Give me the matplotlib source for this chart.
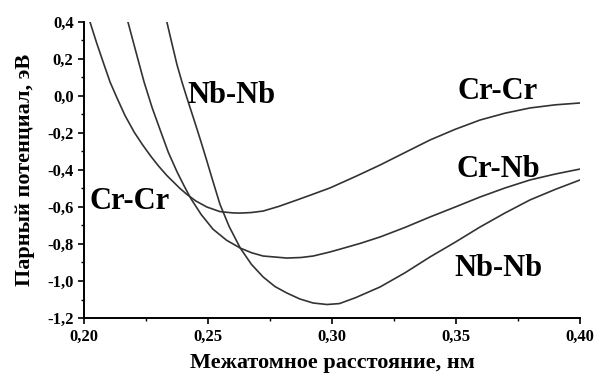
#!/usr/bin/env python3
"""Парные потенциалы Cr-Cr, Cr-Nb, Nb-Nb в зависимости от межатомного расстояния."""

import matplotlib

matplotlib.use("Agg")
import matplotlib.pyplot as plt
from matplotlib.ticker import MultipleLocator, FuncFormatter

matplotlib.rcParams["font.family"] = ["Liberation Serif", "DejaVu Serif"]
matplotlib.rcParams["font.weight"] = "bold"
matplotlib.rcParams["axes.unicode_minus"] = False

# Кривые (нм, эВ)
cr_cr_x = [0.2024, 0.2050, 0.2081, 0.2105, 0.2133, 0.2165, 0.2202, 0.2235, 0.2270,
           0.2300, 0.2334, 0.2387, 0.2415, 0.2450, 0.2495, 0.2548, 0.2600, 0.2630,
           0.2675, 0.2722, 0.2785, 0.2859, 0.2925, 0.2992, 0.3095, 0.3194, 0.3295,
           0.3395, 0.3497, 0.3597, 0.3698, 0.3798, 0.3900, 0.4000]
cr_cr_y = [0.40, 0.29, 0.168, 0.075, -0.011, -0.105, -0.195, -0.262, -0.327,
           -0.378, -0.43, -0.50, -0.532, -0.567, -0.60, -0.625, -0.632, -0.633,
           -0.63, -0.622, -0.597, -0.562, -0.53, -0.497, -0.435, -0.373, -0.305,
           -0.238, -0.18, -0.13, -0.093, -0.065, -0.048, -0.038]

cr_nb_x = [0.2177, 0.2210, 0.2242, 0.2275, 0.2310, 0.2340, 0.2375, 0.2405, 0.2431,
           0.2472, 0.2520, 0.2575, 0.2630, 0.2675, 0.2722, 0.2818, 0.2875, 0.2924,
           0.2992, 0.3032, 0.3113, 0.3194, 0.3295, 0.3395, 0.3497, 0.3597, 0.3698,
           0.3798, 0.3900, 0.4000]
cr_nb_y = [0.40, 0.235, 0.076, -0.065, -0.195, -0.305, -0.41, -0.49, -0.555,
           -0.64, -0.72, -0.78, -0.822, -0.847, -0.865, -0.876, -0.873, -0.865,
           -0.843, -0.828, -0.797, -0.762, -0.71, -0.654, -0.60, -0.546, -0.497,
           -0.454, -0.422, -0.395]

nb_nb_x = [0.2334, 0.2355, 0.2375, 0.2395, 0.2415, 0.2445, 0.2472, 0.2495, 0.2515,
           0.2548, 0.2585, 0.2630, 0.2675, 0.2722, 0.2770, 0.2818, 0.2870, 0.2924,
           0.2980, 0.3030, 0.3095, 0.3194, 0.3295, 0.3395, 0.3497, 0.3597, 0.3698,
           0.3798, 0.3900, 0.4000]
nb_nb_y = [0.40, 0.28, 0.168, 0.075, -0.011, -0.135, -0.249, -0.35, -0.44,
           -0.585, -0.705, -0.822, -0.91, -0.978, -1.03, -1.065, -1.097, -1.119,
           -1.127, -1.122, -1.09, -1.032, -0.955, -0.87, -0.79, -0.708, -0.632,
           -0.562, -0.505, -0.454]

# Подписи кривых: текст, x, y
curve_labels = [
    ("Nb-Nb", 0.2415, 0.005),
    ("Cr-Cr", 0.2022, -0.573),
    ("Cr-Cr", 0.3505, 0.022),
    ("Cr-Nb", 0.3502, -0.40),
    ("Nb-Nb", 0.3495, -0.935),
]


def comma(value, _pos, digits):
    return f"{value:.{digits}f}".replace(".", ",")


def main() -> None:
    fig = plt.figure(figsize=(5.98, 3.78), dpi=100)
    ax = fig.add_axes([0.1405, 0.1587, 0.8295, 0.7833])

    for xs, ys in [(cr_cr_x, cr_cr_y), (cr_nb_x, cr_nb_y), (nb_nb_x, nb_nb_y)]:
        ax.plot(xs, ys, color="#333333", linewidth=1.2)

    for text, x, y in curve_labels:
        ax.text(x, y, text, fontsize=22, fontweight="bold", ha="left", va="center")

    ax.set_xlim(0.20, 0.40)
    ax.set_ylim(-1.2, 0.4)
    ax.xaxis.set_major_locator(MultipleLocator(0.05))
    ax.xaxis.set_minor_locator(MultipleLocator(0.025))
    ax.yaxis.set_major_locator(MultipleLocator(0.2))
    ax.yaxis.set_minor_locator(MultipleLocator(0.1))
    ax.xaxis.set_major_formatter(FuncFormatter(lambda v, p: comma(v, p, 2)))
    ax.yaxis.set_major_formatter(FuncFormatter(lambda v, p: comma(v, p, 1)))

    for side in ("top", "right"):
        ax.spines[side].set_visible(False)
    for side in ("left", "bottom"):
        ax.spines[side].set_linewidth(1.4)
    ax.tick_params(which="major", direction="out", length=4, width=1.2, labelsize=12)
    ax.tick_params(which="minor", direction="out", length=2, width=1.0)
    for label in ax.get_xticklabels() + ax.get_yticklabels():
        label.set_fontweight("bold")

    ax.set_xlabel("Межатомное расстояние, нм", fontsize=16, fontweight="bold", labelpad=6)
    ax.set_ylabel("Парный потенциал, эВ", fontsize=16, fontweight="bold", labelpad=9)

    fig.savefig("out.png", dpi=100)
    plt.close(fig)


if __name__ == "__main__":
    main()
